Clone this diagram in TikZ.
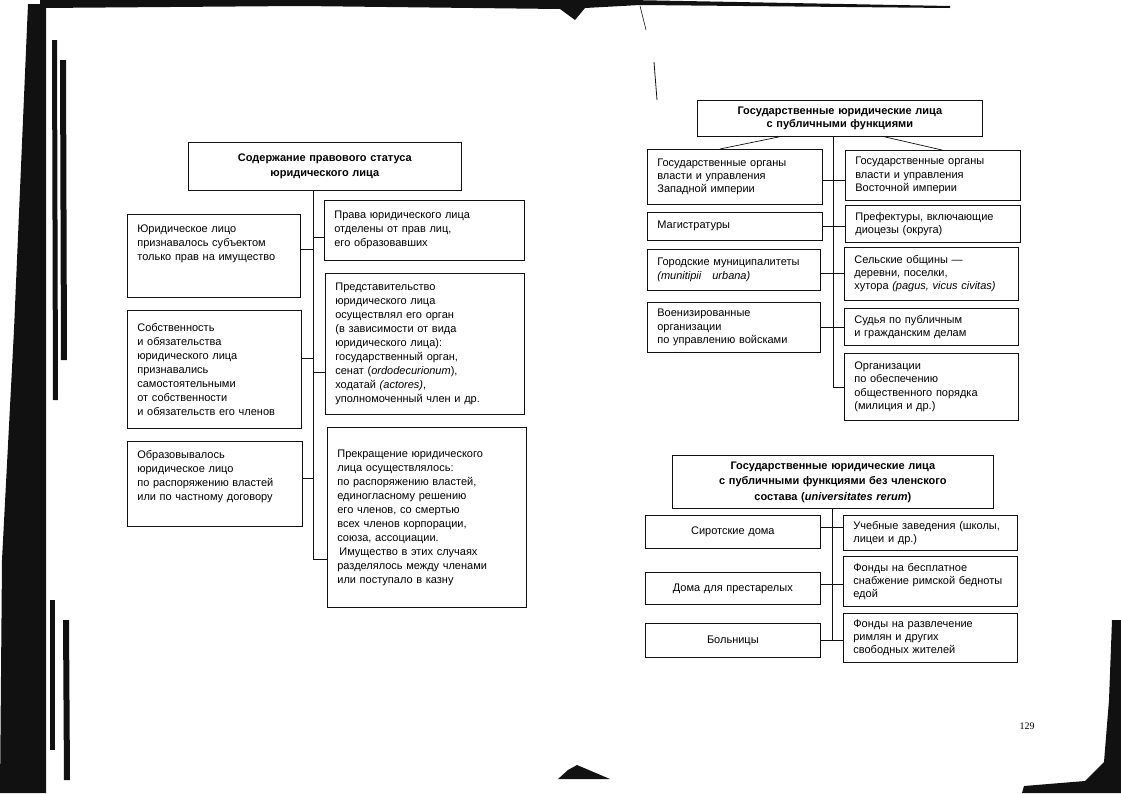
\documentclass[tikz,border=0pt]{standalone}
\usepackage{fontspec}
\setmainfont{Liberation Sans}
\newfontfamily\foliofont{Liberation Serif}
\usetikzlibrary{calc}
\definecolor{sink}{HTML}{111111}

\begin{document}
\begin{tikzpicture}[x=1pt, y=-1pt, line width=0.7pt,
  box/.style={draw=sink, anchor=north west, align=left, inner xsep=10pt, inner ysep=0pt,
    font=\fontsize{11}{14}\selectfont},
  rbox/.style={box, font=\fontsize{11}{13.2}\selectfont},
  head/.style={box, align=center, font=\bfseries\fontsize{11}{15.5}\selectfont},
  link/.style={draw=sink, line width=0.7pt}]
  % page: 1121 x 793, y grows downwards
  \useasboundingbox (0,0) rectangle (1121,793);

  % ---- left page: content of the legal status ----
  \node[head, text width=253, minimum height=48] (status) at (188,142)
    {Содержание правового статуса\\юридического лица};
  \coordinate (lt) at (313,190);

  \node[box, text width=153, minimum height=83] (subj) at (127,214)
    {\parbox[t][62pt][t]{153pt}{Юридическое лицо\\признавалось субъектом\\только прав на имущество}};
  \node[box, text width=154, minimum height=118] (own) at (127,310)
    {Собственность\\и обязательства\\юридического лица\\признавались\\самостоятельными\\от собственности\\и обязательств его членов};
  \node[box, text width=155, minimum height=85] (found) at (127,441)
    {\parbox[t][66pt][t]{155pt}{Образовывалось\\юридическое лицо\\по распоряжению властей\\или по частному договору}};

  \node[box, text width=180, minimum height=60] (rights) at (324,200)
    {Права юридического лица\\отделены от прав лиц,\\его образовавших};
  \node[box, text width=179, minimum height=141] (agent) at (325,273)
    {Представительство\\юридического лица\\осуществлял его орган\\(в зависимости от вида\\юридического лица):\\государственный орган,\\сенат (\textit{ordodecurionum}),\\ходатай \textit{(actores)},\\уполномоченный член и др.};
  \node[box, text width=179, minimum height=180] (stop) at (327,427)
    {Прекращение юридического\\лица осуществлялось:\\по распоряжению властей,\\единогласному решению\\его членов, со смертью\\всех членов корпорации,\\союза, ассоциации.\\\hspace{2pt}Имущество в этих случаях\\разделялось между членами\\или поступало в казну};

  % trunk and branches
  \draw[link] (lt) -- ([yshift=-42pt]stop.west -| lt) -- ([yshift=-42pt]stop.west);
  \draw[link] ([yshift=7pt]subj.east) -- ([yshift=7pt]subj.east -| lt);
  \draw[link] ([yshift=11pt]own.east) -- ([yshift=11pt]own.east -| lt);
  \draw[link] ([yshift=6pt]found.east) -- ([yshift=6pt]found.east -| lt);
  \draw[link] ([yshift=-7pt]rights.west) -- ([yshift=-7pt]rights.west -| lt);
  \draw[link] ([yshift=-28pt]agent.west) -- ([yshift=-28pt]agent.west -| lt);

  % ---- right page, top: bodies with public functions ----
  \node[head, text width=265, minimum height=36, font=\bfseries\fontsize{11}{13.5}\selectfont] (pub) at (697,100)
    {Государственные юридические лица\\с публичными функциями};
  \coordinate (rt) at (833,136);

  \node[rbox, text width=155, minimum height=55] (west1) at (647,149)
    {Государственные органы\\власти и управления\\Западной империи};
  \node[rbox, text width=155, minimum height=28] (west2) at (647,212) {Магистратуры};
  \node[rbox, text width=153, minimum height=41] (west3) at (647,249)
    {Городские муниципалитеты\\\textit{(munitipii\quad urbana)}};
  \node[rbox, text width=153, minimum height=50] (west4) at (647,302)
    {Военизированные\\организации\\по управлению войсками};

  \node[rbox, text width=155, minimum height=50] (east1) at (845,150)
    {Государственные органы\\власти и управления\\Восточной империи};
  \node[rbox, text width=155, minimum height=37] (east2) at (845,205)
    {Префектуры, включающие\\диоцезы (округа)};
  \node[rbox, text width=154, minimum height=53] (east3) at (844,247)
    {Сельские общины —\\деревни, поселки,\\хутора \textit{(pagus, vicus civitas)}};
  \node[rbox, text width=154, minimum height=37] (east4) at (844,308)
    {Судья по публичным\\и гражданским делам};
  \node[rbox, text width=154, minimum height=67] (east5) at (844,353)
    {Организации\\по обеспечению\\общественного порядка\\(милиция и др.)};

  \draw[link] ($(pub.south west)+(83,0)$) -- ($(west1.north west)+(73,0)$);
  \draw[link] ($(pub.south west)+(187,0)$) -- ($(east1.north west)+(97,0)$);
  \draw[link] (rt) -- (east5.west -| rt) -- (east5.west);
  \draw[link] ([yshift=-3pt]west1.east) -- ([yshift=-3pt]west1.east -| east1.west);
  \draw[link] (west2.east) -- (west2.east -| east2.west);
  \draw[link] ([yshift=-3pt]west3.east) -- ([yshift=-3pt]west3.east -| east3.west);
  \draw[link] (west4.east) -- (west4.east -| east4.west);

  % ---- right page, bottom: without members ----
  \node[head, text width=301, minimum height=53] (rerum) at (672,455)
    {Государственные юридические лица\\с публичными функциями без членского\\состава (\textit{universitates rerum})};
  \coordinate (bt) at (832,508);

  \node[rbox, align=center, text width=155, minimum height=33] (home1) at (645,515) {Сиротские дома};
  \node[rbox, align=center, text width=155, minimum height=32] (home2) at (645,572) {Дома для престарелых};
  \node[rbox, align=center, text width=155, minimum height=34] (home3) at (645,623) {Больницы};

  \node[rbox, text width=154, minimum height=35] (fund1) at (843,515)
    {Учебные заведения (школы,\\лицеи и др.)};
  \node[rbox, text width=154, minimum height=50] (fund2) at (843,556)
    {Фонды на бесплатное\\снабжение римской бедноты\\едой};
  \node[rbox, text width=154, minimum height=49] (fund3) at (843,613)
    {Фонды на развлечение\\римлян и других\\свободных жителей};

  \draw[link] (bt) -- (home3.east -| bt);
  \draw[link] ([yshift=5pt]home1.east) -- ([yshift=5pt]home1.east -| fund1.west);
  \draw[link] ([yshift=4pt]home2.east) -- ([yshift=4pt]home2.east -| fund2.west);
  \draw[link] (home3.east) -- (home3.east -| fund3.west);

  % page number
  \node[font=\foliofont\fontsize{10}{12}\selectfont] (folio) at (1027,726) {129};

  % scan edges
  \fill[sink] (28,4) -- (46,4) -- (46,793) -- (0,793) -- (2,560) -- (14,330) -- (20,190) -- cycle;
  \fill[sink] (52,40) -- (57,40) -- (58,400) -- (53,400) -- cycle;
  \fill[sink] (60,60) -- (66,60) -- (67,360) -- (61,360) -- cycle;
  \fill[sink] (50,600) -- (55,600) -- (55,750) -- (50,750) -- cycle;
  \fill[sink] (63,620) -- (69,620) -- (70,780) -- (64,780) -- cycle;
  \fill[sink] (40,0) -- (630,0) -- (950,6) -- (950,8) -- (640,5) -- (585,8) -- (575,20) -- (560,9) -- (300,6) -- (40,8) -- cycle;
  \draw[sink, line width=0.6pt] (640,6) -- (646,30);
  \draw[sink, line width=0.8pt] (654,62) -- (657,100);
  \fill[sink] (558,779) -- (568,770) -- (577,765) -- (610,779) -- cycle;
  \fill[sink] (1121,620) -- (1121,793) -- (1022,793) -- (1024,786) -- (1085,781) -- (1104,762) -- (1109,700) -- (1112,620) -- cycle;
\end{tikzpicture}
\end{document}
